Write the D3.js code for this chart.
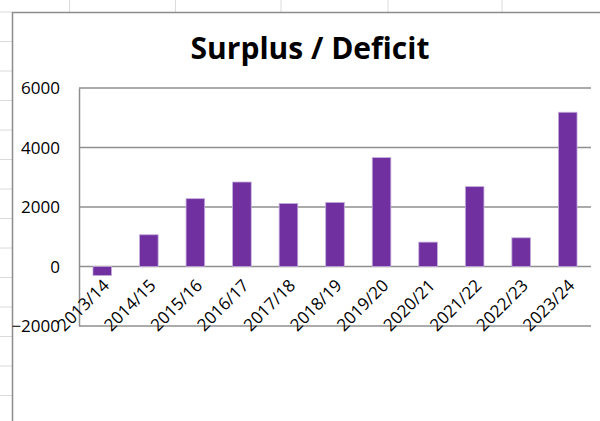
<!DOCTYPE html>
<html>
<head>
<meta charset="utf-8">
<script src="https://cdn.jsdelivr.net/npm/d3@7"></script>
<style>
  body { margin: 0; background: #fff; }
  svg { display: block; }
  text { font-family: "Open Sans", sans-serif; fill: #000; }
</style>
</head>
<body>
<svg id="chart" width="600" height="421"></svg>
<script>
// data
const categories = ['2013/14', '2014/15', '2015/16', '2016/17', '2017/18', '2018/19',
  '2019/20', '2020/21', '2021/22', '2022/23', '2023/24'];
const surplus = [-305, 1067, 2280, 2840, 2120, 2155, 3660, 820, 2685, 965, 5185];
const yTicks = [-2000, 0, 2000, 4000, 6000];
const title = 'Surplus / Deficit';

const plot = {left: 79, right: 591, top: 88, bottom: 326};
const svg = d3.select('#chart');

function translate(x, y) {
  return `translate(${x}, ${y})`;
}

// ---------- spreadsheet background ----------
const sheet = svg.append('g').attr('class', 'sheet');
for (let y = 12; y < 421; y += 29.5) {
  sheet.append('line').attr('x1', 0).attr('x2', 12).attr('y1', y).attr('y2', y)
    .attr('stroke', '#dadada').attr('stroke-width', 1);
}
[69.6, 175.4, 281, 388, 502].forEach(x => {
  sheet.append('line').attr('x1', x).attr('x2', x).attr('y1', 0).attr('y2', 12)
    .attr('stroke', '#dadada').attr('stroke-width', 1);
});

// chart frame (runs off the window)
svg.append('rect')
  .attr('x', 12.5).attr('y', 12.5).attr('width', 620).attr('height', 430)
  .attr('fill', '#fff').attr('stroke', '#8c8c8c').attr('stroke-width', 1.5);

// ---------- scales ----------
const xScale = d3.scaleBand().domain(categories).range([plot.left, plot.right]).padding(0);
const yScale = d3.scaleLinear().domain([-2000, 6000]).range([plot.bottom, plot.top]);
const barWidth = xScale.bandwidth() * 0.4;

// gridlines
svg.append('g').attr('class', 'grid')
  .selectAll('line').data(yTicks).join('line')
    .attr('x1', plot.left).attr('x2', plot.right)
    .attr('y1', d => yScale(d)).attr('y2', d => yScale(d))
    .attr('stroke', '#8f8f8f').attr('stroke-width', 1.5);

// y axis
const yAxis = svg.append('g')
  .attr('class', 'y axis')
  .attr('transform', translate(plot.left, 0))
  .call(d3.axisLeft(yScale).tickValues(yTicks).tickSize(0).tickPadding(19).tickFormat(d3.format('d')));
yAxis.select('.domain').attr('stroke', '#8f8f8f').attr('stroke-width', 1.5);
yAxis.selectAll('text').style('font-size', '17px').attr('dy', '0.34em');

// bars
svg.append('g').attr('class', 'bars')
  .selectAll('rect').data(surplus).join('rect')
    .attr('x', (d, i) => xScale(categories[i]) + (xScale.bandwidth() - barWidth) / 2)
    .attr('y', d => yScale(Math.max(0, d)))
    .attr('width', barWidth)
    .attr('height', d => Math.abs(yScale(d) - yScale(0)))
    .attr('fill', '#7030a0')
    .attr('stroke', '#c4aedb').attr('stroke-width', 0.8);

// category labels hang under the zero line
const xAxis = svg.append('g')
  .attr('class', 'x axis')
  .attr('transform', translate(0, yScale(0)))
  .call(d3.axisBottom(xScale).tickSize(0).tickPadding(0));
xAxis.select('.domain').remove();
xAxis.selectAll('text')
  .style('font-size', '17px')
  .attr('text-anchor', 'end')
  .attr('dy', 0)
  .attr('transform', 'translate(8, 20) rotate(-45)');

// title
svg.append('text')
  .attr('x', 310).attr('y', 59)
  .attr('text-anchor', 'middle')
  .style('font-size', '30px').style('font-weight', 'bold')
  .text(title);
</script>
</body>
</html>
